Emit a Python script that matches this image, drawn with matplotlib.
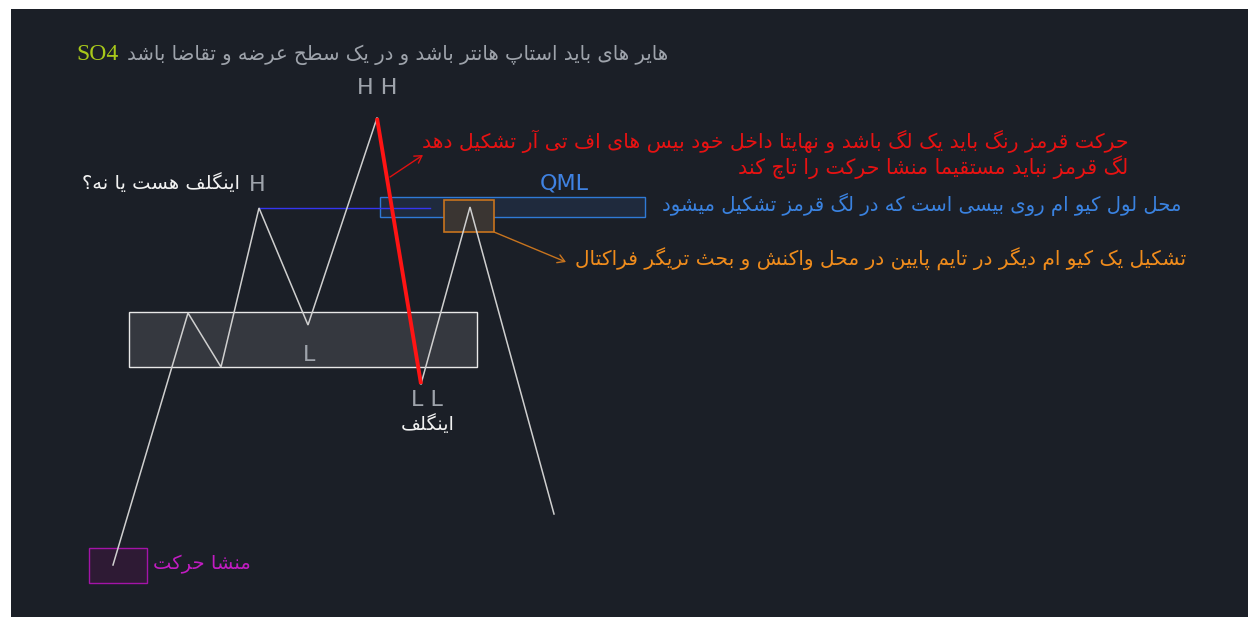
import matplotlib
matplotlib.use("Agg")
import matplotlib.pyplot as plt
from matplotlib.patches import Rectangle, FancyArrowPatch

# ---------------- data (diagram coordinates, y grows downward) ----------------
path1_x = [113, 188, 221, 259, 308, 377]
path1_y = [565, 313, 367, 208, 325, 118]
red_leg_x = [377, 421]
red_leg_y = [118, 384]
path2_x = [421, 470, 554]
path2_y = [384, 207, 514]
blue_level_x = [259, 430]
blue_level_y = [208, 208]

# zones: (x0, y0, x1, y1)
zone_base = (129, 312, 477, 367)
zone_qml = (380, 197, 645, 217)
zone_small = (444, 200, 494, 232)
zone_origin = (89, 548, 147, 583)

TXT_TITLE = "هایر های باید استاپ هانتر باشد و در یک سطح عرضه و تقاضا باشد"
TXT_RED1 = "حرکت قرمز رنگ باید یک لگ باشد و نهایتا داخل خود بیس های اف تی آر تشکیل دهد"
TXT_RED2 = "لگ قرمز نباید مستقیما منشا حرکت را تاچ کند"
TXT_BLUE = "محل لول کیو ام روی بیسی است که در لگ قرمز تشکیل میشود"
TXT_ORANGE = "تشکیل یک کیو ام دیگر در تایم پایین در محل واکنش و بحث تریگر فراکتال"
TXT_ENGULF_Q = "اینگلف هست یا نه؟"
TXT_ENGULF = "اینگلف"
TXT_ORIGIN = "منشا حرکت"

# ---------------- minimal Arabic/Persian shaping ----------------
FORMS = {
    'ا': ('\uFE8D', '\uFE8E', None, None),
    'آ': ('\uFE81', '\uFE82', None, None),
    'ب': ('\uFE8F', '\uFE90', '\uFE91', '\uFE92'),
    'پ': ('\uFB56', '\uFB57', '\uFB58', '\uFB59'),
    'ت': ('\uFE95', '\uFE96', '\uFE97', '\uFE98'),
    'ث': ('\uFE99', '\uFE9A', '\uFE9B', '\uFE9C'),
    'ج': ('\uFE9D', '\uFE9E', '\uFE9F', '\uFEA0'),
    'چ': ('\uFB7A', '\uFB7B', '\uFB7C', '\uFB7D'),
    'ح': ('\uFEA1', '\uFEA2', '\uFEA3', '\uFEA4'),
    'خ': ('\uFEA5', '\uFEA6', '\uFEA7', '\uFEA8'),
    'د': ('\uFEA9', '\uFEAA', None, None),
    'ذ': ('\uFEAB', '\uFEAC', None, None),
    'ر': ('\uFEAD', '\uFEAE', None, None),
    'ز': ('\uFEAF', '\uFEB0', None, None),
    'ژ': ('\uFB8A', '\uFB8B', None, None),
    'س': ('\uFEB1', '\uFEB2', '\uFEB3', '\uFEB4'),
    'ش': ('\uFEB5', '\uFEB6', '\uFEB7', '\uFEB8'),
    'ص': ('\uFEB9', '\uFEBA', '\uFEBB', '\uFEBC'),
    'ض': ('\uFEBD', '\uFEBE', '\uFEBF', '\uFEC0'),
    'ط': ('\uFEC1', '\uFEC2', '\uFEC3', '\uFEC4'),
    'ظ': ('\uFEC5', '\uFEC6', '\uFEC7', '\uFEC8'),
    'ع': ('\uFEC9', '\uFECA', '\uFECB', '\uFECC'),
    'غ': ('\uFECD', '\uFECE', '\uFECF', '\uFED0'),
    'ف': ('\uFED1', '\uFED2', '\uFED3', '\uFED4'),
    'ق': ('\uFED5', '\uFED6', '\uFED7', '\uFED8'),
    'ک': ('\uFB8E', '\uFB8F', '\uFB90', '\uFB91'),
    'گ': ('\uFB92', '\uFB93', '\uFB94', '\uFB95'),
    'ل': ('\uFEDD', '\uFEDE', '\uFEDF', '\uFEE0'),
    'م': ('\uFEE1', '\uFEE2', '\uFEE3', '\uFEE4'),
    'ن': ('\uFEE5', '\uFEE6', '\uFEE7', '\uFEE8'),
    'ه': ('\uFEE9', '\uFEEA', '\uFEEB', '\uFEEC'),
    'و': ('\uFEED', '\uFEEE', None, None),
    'ی': ('\uFBFC', '\uFBFD', '\uFBFE', '\uFBFF'),
    'ي': ('\uFEF1', '\uFEF2', '\uFEF3', '\uFEF4'),
}


def shape(s):
    out = []
    n = len(s)
    for i, c in enumerate(s):
        if c not in FORMS:
            out.append(c)
            continue
        prev = s[i - 1] if i > 0 else None
        nxt = s[i + 1] if i < n - 1 else None
        cp = prev in FORMS and FORMS[prev][2] is not None if prev else False
        cn = (nxt in FORMS and FORMS[c][2] is not None) if nxt else False
        iso, fin, ini, med = FORMS[c]
        if cp and cn:
            g = med
        elif cp:
            g = fin
        elif cn:
            g = ini
        else:
            g = iso
        out.append(g)
    return ''.join(reversed(out))


# ---------------- figure ----------------
BG = '#1b1f27'
W, H = 1256, 617
fig = plt.figure(figsize=(W / 100, H / 100), dpi=100, facecolor='white')
ax = fig.add_axes([11 / W, 0, (1248 - 11) / W, (617 - 9) / H])
ax.set_facecolor(BG)
ax.set_xlim(11, 1248)
ax.set_ylim(617, 9)
ax.axis('off')
ax.add_patch(Rectangle((11, 9), 1237, 608, facecolor=BG, edgecolor='none', zorder=0))


def zone(z, fc, ec, lw=1.0, alpha=1.0, zo=1):
    x0, y0, x1, y1 = z
    ax.add_patch(Rectangle((x0, y0), x1 - x0, y1 - y0, facecolor=fc, edgecolor=ec,
                           linewidth=lw, alpha=alpha, zorder=zo))


zone(zone_base, '#35383f', '#e8e8e8', lw=1.0)
zone(zone_qml, '#1f2a3d', '#2f7ad6', lw=1.0)
zone(zone_small, '#3a3532', '#c8741e', lw=1.2, zo=2)
zone(zone_origin, '#2e1a34', '#a414a8', lw=1.0)

WL = '#cfcfcf'
ax.plot(path1_x, path1_y, color=WL, lw=1.1, zorder=3, solid_joinstyle='miter')
ax.plot(path2_x, path2_y, color=WL, lw=1.1, zorder=3, solid_joinstyle='miter')
ax.plot(blue_level_x, blue_level_y, color='#3535f0', lw=1.0, zorder=2)
ax.plot(red_leg_x, red_leg_y, color='#ff1414', lw=2.8, zorder=4, solid_capstyle='butt')

# arrows
ax.add_patch(FancyArrowPatch((390, 177), (423, 155), arrowstyle='->,head_length=5,head_width=3',
                             color='#e01010', lw=1.0, zorder=5, shrinkA=0, shrinkB=0))
ax.add_patch(FancyArrowPatch((494, 232), (566, 262), arrowstyle='->,head_length=5,head_width=3',
                             color='#c8741e', lw=1.0, zorder=5, shrinkA=0, shrinkB=0))

# latin labels
GRAY = '#9ea3ab'
ax.text(377, 88, 'H H', color=GRAY, fontsize=16, ha='center', va='center', family='DejaVu Sans')
ax.text(257, 185, 'H', color=GRAY, fontsize=16, ha='center', va='center', family='DejaVu Sans')
ax.text(309, 355, 'L', color=GRAY, fontsize=16, ha='center', va='center', family='DejaVu Sans')
ax.text(427, 400, 'L L', color=GRAY, fontsize=16, ha='center', va='center', family='DejaVu Sans')
ax.text(564, 184, 'QML', color='#3f82e2', fontsize=16, ha='center', va='center', family='DejaVu Sans')
ax.text(76, 55, 'SO4', color='#a8c81a', fontsize=17, ha='left', va='center',
        family=['Liberation Serif', 'DejaVu Serif'])

renderer = fig.canvas.get_renderer()
fitted = []


def ptext(s, x, y, width, color, ha='right', fs=14):
    t = ax.text(x, y, shape(s), color=color, fontsize=fs, ha=ha, va='center',
                family='DejaVu Sans', zorder=6)
    w = t.get_window_extent(renderer).width
    t.set_fontsize(fs * width / w)
    return t


ptext(TXT_TITLE, 668, 55, 544, GRAY)
ptext(TXT_RED1, 1128, 141, 708, '#e81212')
ptext(TXT_RED2, 1128, 167, 393, '#e81212')
ptext(TXT_BLUE, 1181, 204, 521, '#3a82e0')
ptext(TXT_ORANGE, 1186, 259, 614, '#f08c1c')
ptext(TXT_ENGULF_Q, 240, 183, 158, '#f2f2f2')
ptext(TXT_ENGULF, 428, 424, 54, '#f2f2f2', ha='center')
ptext(TXT_ORIGIN, 153, 564, 98, '#c21cc2', ha='left')

fig.savefig('out.png', dpi=100, facecolor='white')
